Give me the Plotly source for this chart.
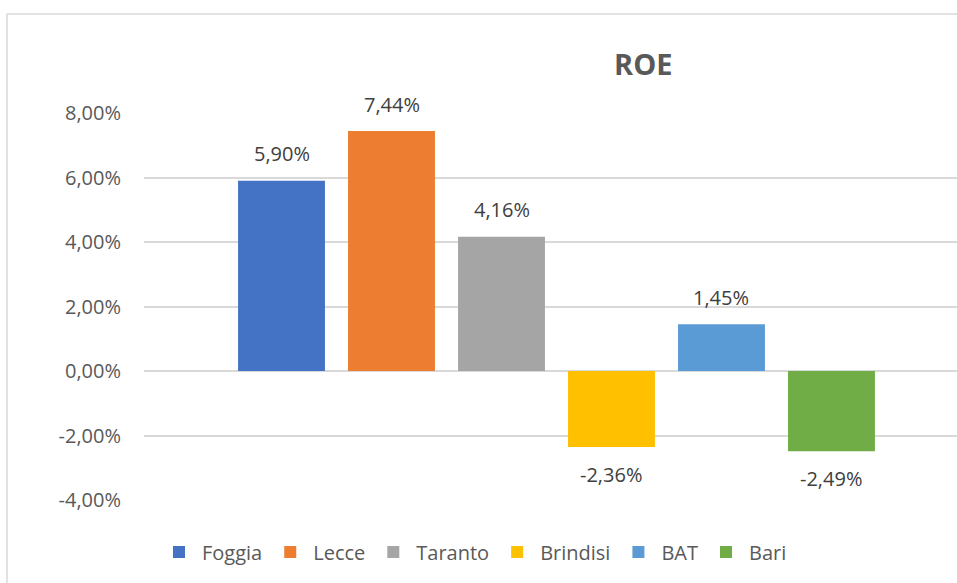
import plotly.graph_objects as go

provinces = ["Foggia", "Lecce", "Taranto", "Brindisi", "BAT", "Bari"]
roe = [0.0590, 0.0744, 0.0416, -0.0236, 0.0145, -0.0249]
roe_labels = ["5,90%", "7,44%", "4,16%", "-2,36%", "1,45%", "-2,49%"]
colors = ["#4472C4", "#ED7D31", "#A5A5A5", "#FFC000", "#5B9BD5", "#70AD47"]
tick_vals = [-0.04, -0.02, 0.0, 0.02, 0.04, 0.06, 0.08]
tick_text = ["-4,00%", "-2,00%", "0,00%", "2,00%", "4,00%", "6,00%", "8,00%"]

FONT = "Open Sans"
TXT = "#595959"

W, H = 957, 583
PL, PR, PT, PB = 144, 957, 113, 500          # plot area in screen px
ML, MR, MT, MB = PL, W - PR, PT, H - PB
pw, ph = W - ML - MR, H - MT - MB


def px(x):
    return (x - PL) / pw


def py(y):
    return (PB - y) / ph


fig = go.Figure()
for name, val, col in zip(provinces, roe, colors):
    fig.add_trace(go.Bar(
        x=[name], y=[val], name=name,
        marker=dict(color=col, line=dict(width=0)),
        width=0.79, hoverinfo="skip",
    ))

annotations = []
for name, val, lab in zip(provinces, roe, roe_labels):
    annotations.append(dict(
        x=name, y=val, xref="x", yref="y", text=lab, showarrow=False,
        yanchor="middle", yshift=27 if val >= 0 else -27,
        font=dict(family=FONT, size=20, color="#404040"),
    ))
annotations.append(dict(
    x=px(643), y=py(64), xref="paper", yref="paper", text="<b>ROE</b>",
    showarrow=False, xanchor="center", yanchor="middle",
    font=dict(family=FONT, size=29, color=TXT),
))

shapes = [
    dict(type="line", xref="paper", yref="paper",
         x0=px(7), x1=px(7), y0=py(620), y1=py(14),
         line=dict(color="#D9D9D9", width=1.5)),
    dict(type="line", xref="paper", yref="paper",
         x0=px(7), x1=px(1000), y0=py(14), y1=py(14),
         line=dict(color="#D9D9D9", width=1.5)),
]

fig.update_layout(
    width=W, height=H,
    margin=dict(l=ML, r=MR, t=MT, b=MB, pad=0),
    paper_bgcolor="white", plot_bgcolor="white",
    barmode="relative",
    showlegend=True,
    legend=dict(
        orientation="h", x=px(156), xanchor="left",
        y=py(552), yanchor="middle", itemwidth=36,
        font=dict(family=FONT, size=20, color=TXT),
        bgcolor="rgba(0,0,0,0)",
    ),
    xaxis=dict(
        type="category", categoryorder="array", categoryarray=provinces,
        range=[-1.25, 6.141], showticklabels=False, showgrid=False,
        zeroline=False, showline=False, ticks="",
    ),
    yaxis=dict(
        range=[-0.04, 0.08], tickvals=tick_vals, ticktext=tick_text,
        showgrid=True, gridcolor="#D9D9D9", gridwidth=1.5,
        zeroline=True, zerolinecolor="#D9D9D9", zerolinewidth=1.5,
        showline=False, ticks="", ticklabelstandoff=22,
        tickfont=dict(family=FONT, size=20, color=TXT),
    ),
    annotations=annotations,
    shapes=shapes,
)

fig.write_html(
    "out.html",
    config={"displayModeBar": False, "responsive": False},
    default_width="957px", default_height="583px",
    post_script=(
        "document.documentElement.style.overflow='hidden';"
        "document.body.style.margin='0';document.body.style.overflow='hidden';"
    ),
)
